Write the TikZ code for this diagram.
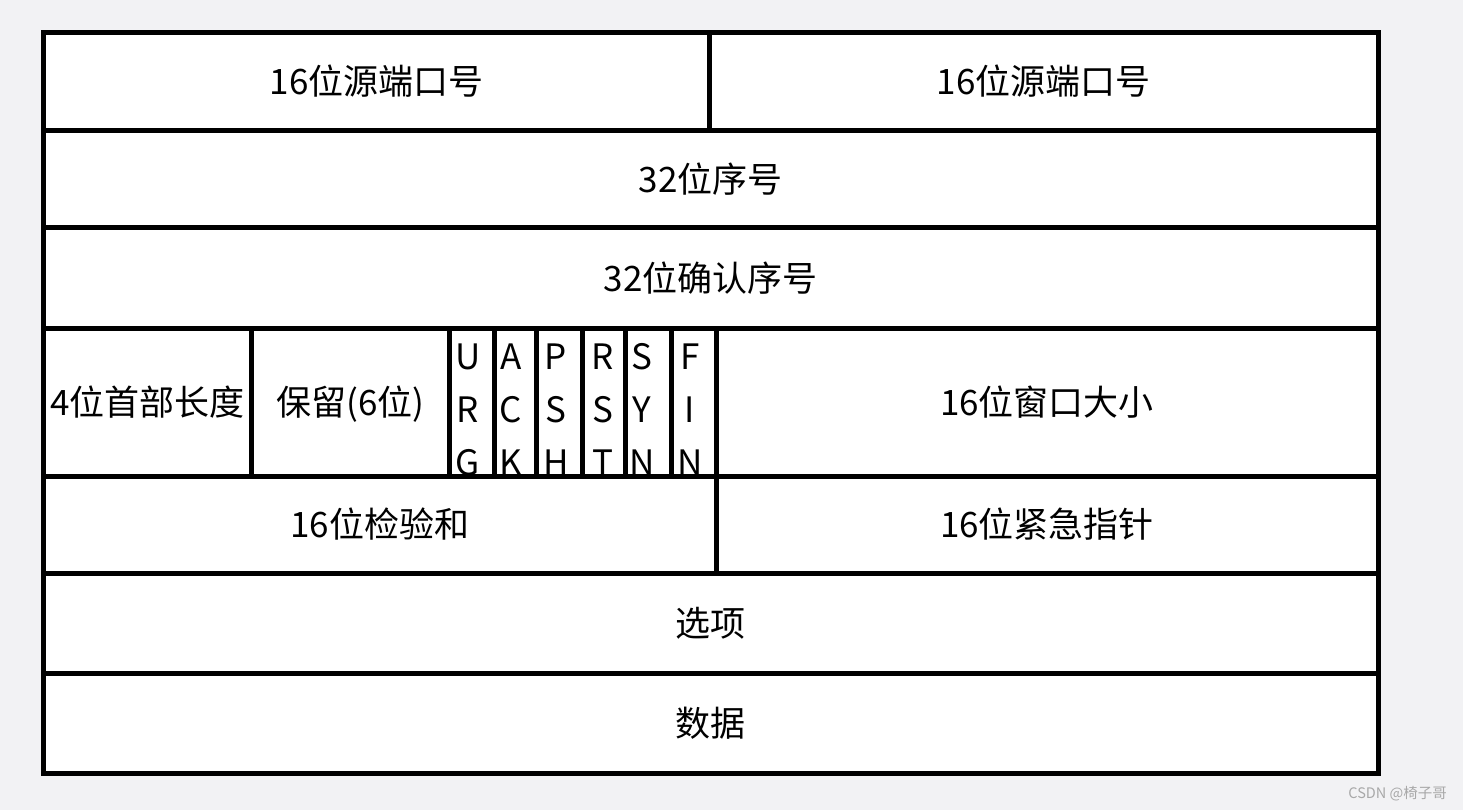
\documentclass[tikz,border=0pt]{standalone}
\usepackage{fontspec}
\newfontfamily\cjk{Noto Sans CJK SC}
\definecolor{bg}{HTML}{F2F2F4}
\definecolor{wm}{HTML}{A8A8A8}
\tikzset{
  cell/.style={draw=black, line width=5pt, fill=white, inner sep=0pt, outer sep=0pt,
    font=\cjk\fontsize{35}{42}\selectfont, text height=26pt, text depth=0pt},
  flagletter/.style={inner sep=0pt, font=\cjk\fontsize{35}{42}\selectfont, text height=26pt, text depth=0pt},
}
\begin{document}
\begin{tikzpicture}[x=1pt,y=-1pt]
\fill[bg] (0,0) rectangle (1463,810);
\useasboundingbox (0,0) rectangle (1463,810);
% row 1
\node[cell, minimum width=666pt, minimum height=98.5pt] (src) at (376.5,81.75) {16位源端口号};
\node[cell, minimum width=668.5pt, minimum height=98.5pt] (dst) at (1043.75,81.75) {16位源端口号};
% row 2
\node[cell, minimum width=1334.5pt, minimum height=97pt] (seq) at (710.75,179.5) {32位序号};
% row 3
\node[cell, minimum width=1334.5pt, minimum height=100pt] (ack) at (710.75,278) {32位确认序号};
% row 4
\node[cell, minimum width=207.5pt, minimum height=148pt] (hlen) at (147.25,402) {4位首部长度};
\node[cell, minimum width=198.5pt, minimum height=148pt] (rsv) at (350.25,402) {保留(6位)};
\node[cell, minimum width=44.5pt, minimum height=148pt] (urg) at (471.75,402) {};
\node[cell, minimum width=42.5pt, minimum height=148pt] (ackf) at (515.25,402) {};
\node[cell, minimum width=45.5pt, minimum height=148pt] (psh) at (559.25,402) {};
\node[cell, minimum width=43pt, minimum height=148pt] (rst) at (603.5,402) {};
\node[cell, minimum width=46.5pt, minimum height=148pt] (syn) at (648.25,402) {};
\node[cell, minimum width=44.5pt, minimum height=148pt] (fin) at (693.75,402) {};
\node[cell, minimum width=662pt, minimum height=148pt] (win) at (1047,402) {16位窗口大小};
% flag letters
\foreach \n/\x/\a/\b/\c in {u/468/U/R/G, a/511/A/C/K, p/556/P/S/H, r/603/R/S/T, s/642/S/Y/N, f/690/F/I/N}{
  \node[flagletter] (\n1) at (\x,356) {\a};
  \node[flagletter] (\n2) at (\x,409) {\b};
  \node[flagletter] (\n3) at (\x,462) {\c};
}
% row 5
\node[cell, minimum width=672.5pt, minimum height=97pt] (chk) at (379.75,524.5) {16位检验和};
\node[cell, minimum width=662pt, minimum height=97pt] (urp) at (1047,524.5) {16位紧急指针};
% row 6
\node[cell, minimum width=1334.5pt, minimum height=100pt] (opt) at (710.75,623) {选项};
% row 7
\node[cell, minimum width=1334.5pt, minimum height=100pt] (data) at (710.75,723) {数据};
% watermark
\node[anchor=east, inner sep=0pt, text=wm, font=\cjk\fontsize{14.5}{17}\selectfont] (wmark) at (1447,794) {CSDN @椅子哥};
\end{tikzpicture}
\end{document}
